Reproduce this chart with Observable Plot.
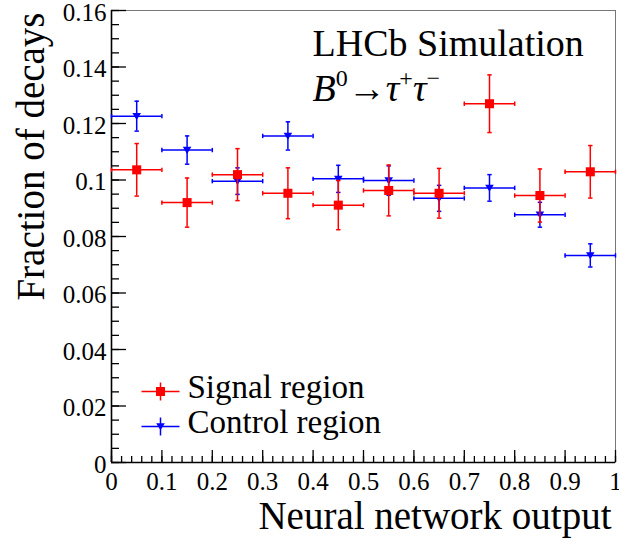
<!DOCTYPE html>
<html>
<head>
<meta charset="utf-8">
<script src="https://cdn.jsdelivr.net/npm/d3@7"></script>
<script src="https://cdn.jsdelivr.net/npm/@observablehq/plot@0.6"></script>
<style>
  html, body { margin: 0; padding: 0; background: #fff; }
  svg, svg text, svg tspan { font-family: "Liberation Serif", "DejaVu Serif", serif !important; }
</style>
</head>
<body>
<div id="chart"></div>
<script>
// ---- data ----
const binCenters = [0.05, 0.15, 0.25, 0.35, 0.45, 0.55, 0.65, 0.75, 0.85, 0.95];
const binHalfWidth = 0.05;
const signalValues = [0.1036, 0.0920, 0.1019, 0.0953, 0.0911, 0.0963, 0.0953, 0.1270, 0.0945, 0.1029];
const signalErrors = [0.0093, 0.0087, 0.0092, 0.0090, 0.0087, 0.0090, 0.0088, 0.0102, 0.0094, 0.0093];
const controlValues = [0.1226, 0.1106, 0.0996, 0.1156, 0.1004, 0.0998, 0.0935, 0.0972, 0.0877, 0.0733];
const controlErrors = [0.0053, 0.0050, 0.0047, 0.0050, 0.0048, 0.0052, 0.0046, 0.0047, 0.0044, 0.0041];
const yTicksMajor = [0, 0.02, 0.04, 0.06, 0.08, 0.1, 0.12, 0.14, 0.16];
const yTickLabels = ["0", "0.02", "0.04", "0.06", "0.08", "0.1", "0.12", "0.14", "0.16"];
const yTicksMinor = d3.range(0, 33).map(i => i * 0.005);
const xTicksMajor = [0, 0.1, 0.2, 0.3, 0.4, 0.5, 0.6, 0.7, 0.8, 0.9, 1];
const xTickLabels = ["0", "0.1", "0.2", "0.3", "0.4", "0.5", "0.6", "0.7", "0.8", "0.9", "1"];
const xTicksMinor = d3.range(0, 51).map(i => i * 0.02);
const seriesNames = ["Signal region", "Control region"];
const seriesColors = ["#ff0000", "#0000ff"];
const xTitle = "Neural network output";
const yTitle = "Fraction of decays";
const experimentLabel = "LHCb Simulation";
const decayLabel = "B0->tau+tau-";

const signalRows = binCenters.map((x, i) => ({x, y: signalValues[i], e: signalErrors[i]}));
const controlRows = binCenters.map((x, i) => ({x, y: controlValues[i], e: controlErrors[i]}));

const FONT = "Liberation Serif";

// ---- custom symbols ----
const rad = s => Math.sqrt(s / Math.PI);
const hline = {draw(c, s) { const r = rad(s); c.moveTo(-r, 0); c.lineTo(r, 0); }};
const vline = {draw(c, s) { const r = rad(s); c.moveTo(0, -r); c.lineTo(0, r); }};
const triDown = {draw(c, s) { const r = rad(s); c.moveTo(-r, -0.75 * r); c.lineTo(r, -0.75 * r); c.lineTo(0, 0.9 * r); c.closePath(); }};

function seriesMarks(rows, color, marker) {
  const sw = 1.5;
  return [
    Plot.ruleY(rows, {y: "y", x1: d => d.x - binHalfWidth, x2: d => d.x + binHalfWidth, stroke: color, strokeWidth: sw}),
    Plot.ruleX(rows, {x: "x", y1: d => d.y - d.e, y2: d => d.y + d.e, stroke: color, strokeWidth: sw}),
    Plot.dot(rows, {x: d => d.x - binHalfWidth, y: "y", symbol: vline, r: 2.2, stroke: color, fill: "none", strokeWidth: sw}),
    Plot.dot(rows, {x: d => d.x + binHalfWidth, y: "y", symbol: vline, r: 2.2, stroke: color, fill: "none", strokeWidth: sw}),
    Plot.dot(rows, {x: "x", y: d => d.y - d.e, symbol: hline, r: 2.2, stroke: color, fill: "none", strokeWidth: sw}),
    Plot.dot(rows, {x: "x", y: d => d.y + d.e, symbol: hline, r: 2.2, stroke: color, fill: "none", strokeWidth: sw}),
    marker === "square"
      ? Plot.dot(rows, {x: "x", y: "y", symbol: "square", r: 5.1, fill: color, stroke: "none"})
      : Plot.dot(rows, {x: "x", y: "y", symbol: triDown, r: 4.3, fill: color, stroke: "none"})
  ];
}

function legendMarks(name, color, marker, dyLine, dyText) {
  return [
    Plot.dot([0], {frameAnchor: "bottom-left", dx: 49, dy: dyLine, symbol: hline, r: 19, stroke: color, fill: "none", strokeWidth: 1.5}),
    Plot.dot([0], {frameAnchor: "bottom-left", dx: 49, dy: dyLine, symbol: vline, r: 9, stroke: color, fill: "none", strokeWidth: 1.5}),
    marker === "square"
      ? Plot.dot([0], {frameAnchor: "bottom-left", dx: 49, dy: dyLine, symbol: "square", r: 5.1, fill: color, stroke: "none"})
      : Plot.dot([0], {frameAnchor: "bottom-left", dx: 49, dy: dyLine, symbol: triDown, r: 4.3, fill: color, stroke: "none"}),
    Plot.text([name], {frameAnchor: "bottom-left", dx: 76, dy: dyText, textAnchor: "start", lineAnchor: "bottom", fontSize: 33, fontFamily: FONT, fill: "#000"})
  ];
}

const plot = Plot.plot({
  width: 619,
  height: 543,
  marginLeft: 111,
  marginRight: 4,
  marginTop: 10,
  marginBottom: 81,
  style: {fontFamily: FONT, background: "#fff", color: "#000", overflow: "visible"},
  x: {domain: [0, 1], axis: null},
  y: {domain: [0, 0.16], axis: null},
  marks: [
    Plot.frame({stroke: "#777", strokeWidth: 1}),
    // minor / major ticks pointing inward
    Plot.axisY({ticks: yTicksMinor, tickSize: -8, tickFormat: () => "", strokeWidth: 1.3, label: null}),
    Plot.axisY({ticks: yTicksMajor, tickSize: -15, tickFormat: () => "", strokeWidth: 1.3, label: null}),
    Plot.axisX({ticks: xTicksMinor, tickSize: -6, tickFormat: () => "", strokeWidth: 1.3, label: null}),
    Plot.axisX({ticks: xTicksMajor, tickSize: -12, tickFormat: () => "", strokeWidth: 1.3, label: null}),
    // tick labels
    Plot.axisY({ticks: yTicksMajor, tickSize: 0, tickPadding: 5, tickFormat: (d, i) => yTickLabels[i], fontSize: 25, fontFamily: FONT, fontVariant: "normal", dy: 2, label: null}),
    Plot.axisX({ticks: xTicksMajor, tickSize: 0, tickPadding: 10, tickFormat: (d, i) => xTickLabels[i], fontSize: 25, fontFamily: FONT, fontVariant: "normal", label: null}),
    Plot.ruleX([0], {stroke: "#000", strokeWidth: 1.6}),
    Plot.ruleY([0], {stroke: "#000", strokeWidth: 1.6}),
    // data
    ...seriesMarks(controlRows, seriesColors[1], "triangle"),
    ...seriesMarks(signalRows, seriesColors[0], "square"),
    // titles
    Plot.text([yTitle], {frameAnchor: "top-left", rotate: -90, textAnchor: "end", lineAnchor: "bottom", dx: -68, dy: 2, fontSize: 39, fontFamily: FONT, fill: "#000"}),
    Plot.text([xTitle], {frameAnchor: "bottom-right", textAnchor: "end", lineAnchor: "bottom", dx: -4, dy: 66, fontSize: 39, fontFamily: FONT, fill: "#000"}),
    Plot.text([experimentLabel], {frameAnchor: "top-left", textAnchor: "start", lineAnchor: "bottom", dx: 201, dy: 45, fontSize: 38, fontFamily: FONT, fill: "#000"}),
    Plot.text([decayLabel], {frameAnchor: "top-left", textAnchor: "start", lineAnchor: "bottom", dx: 201, dy: 90, fontSize: 38, fontFamily: FONT, fill: "#000"}),
    // legend
    ...legendMarks(seriesNames[0], seriesColors[0], "square", -71, -65),
    ...legendMarks(seriesNames[1], seriesColors[1], "triangle", -36, -29.5)
  ]
});

// rich text for the decay label (superscripts, italics)
plot.querySelectorAll("text").forEach(t => {
  if (t.textContent === decayLabel) {
    const NS = "http://www.w3.org/2000/svg";
    t.textContent = "";
    const parts = [
      {s: "B", italic: true},
      {s: "0", sup: true},
      {s: "\u2192"},
      {s: "\u03C4", italic: true},
      {s: "+", sup: true},
      {s: "\u03C4", italic: true},
      {s: "\u2212", sup: true}
    ];
    let shifted = false;
    parts.forEach(p => {
      const ts = document.createElementNS(NS, "tspan");
      ts.textContent = p.s;
      if (p.italic) ts.setAttribute("font-style", "italic");
      if (p.sup) {
        ts.setAttribute("font-size", "24");
        ts.setAttribute("dy", "-15");
        shifted = true;
      } else if (shifted) {
        ts.setAttribute("dy", "15");
        shifted = false;
      }
      t.appendChild(ts);
    });
  }
});

document.getElementById("chart").appendChild(plot);
</script>
</body>
</html>
